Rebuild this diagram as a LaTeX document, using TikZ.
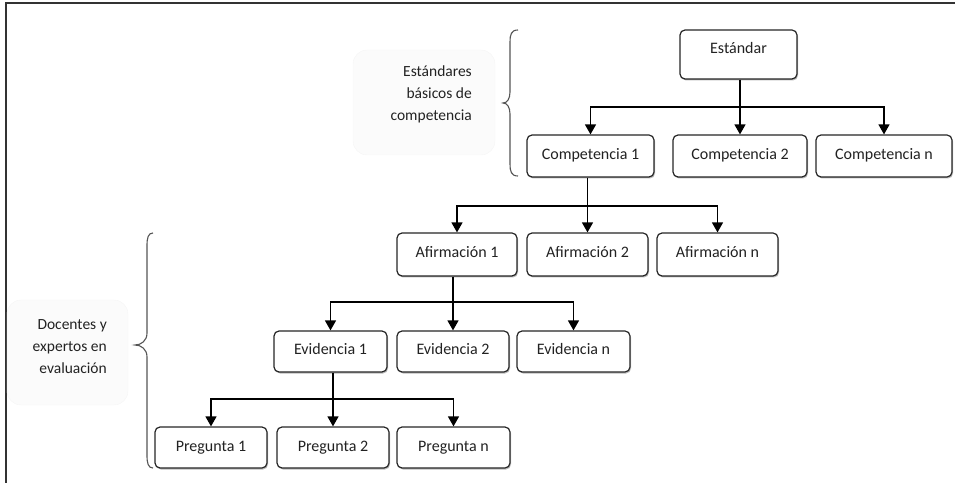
\documentclass[tikz,border=0pt]{standalone}
\usepackage{fontspec}
\setmainfont{Carlito}
\usetikzlibrary{arrows.meta,shadows}
\definecolor{txt}{HTML}{222222}
\definecolor{brc}{HTML}{555555}
\definecolor{faint}{HTML}{FBFBFB}
\tikzset{
  box/.style={draw=black!85, line width=1.2bp, rounded corners=5bp, fill=white,
    inner sep=0pt, text height=10bp, text depth=3bp, text=txt,
    font=\fontsize{16bp}{22bp}\selectfont,
    drop shadow={shadow xshift=1bp, shadow yshift=-1.5bp, opacity=0.45, fill=black!60}},
  arr/.style={line width=1.3bp, black, -{Triangle[length=10bp,width=11bp]}},
  brace/.style={draw=brc, line width=1.1bp},
  lbl/.style={align=right, text=txt, inner sep=0pt, font=\fontsize{15.5bp}{22bp}\selectfont},
  faintbox/.style={fill=faint, draw=black!4, rounded corners=14bp}
}
\begin{document}
\begin{tikzpicture}[x=1bp,y=-1bp]
\useasboundingbox (0,0) rectangle (955,483);
% frame
\draw[line width=2bp, black!80] (6,483) -- (6,3) -- (955,3);
% faint backgrounds
\path[faintbox] (353,50) rectangle (495,155);
\path[faintbox] (7,300) rectangle (128,405);
% labels
\node[lbl, anchor=east] (lab1) at (472,94) {Estándares\\básicos de\\competencia};
\node[lbl, anchor=east] (lab2) at (107,347) {Docentes y\\expertos en\\evaluación};
% braces
\draw[brace] (518,30) .. controls (511,30) and (510,35) .. (510,42) -- (510,92)
  .. controls (510,99) and (507,103) .. (503,103)
  .. controls (507,103) and (510,107) .. (510,114) -- (510,164)
  .. controls (510,171) and (511,176) .. (518,176);
\draw[brace] (153,233) .. controls (148,233) and (147,238) .. (147,246) -- (147,333)
  .. controls (147,341) and (141,345) .. (135,345)
  .. controls (141,345) and (147,349) .. (147,357) -- (147,455)
  .. controls (147,463) and (148,468) .. (153,468);
% nodes
\node[box, minimum width=117bp, minimum height=49bp, text depth=12bp] (est) at (738.5,54.5) {Estándar};
\node[box, minimum width=127bp, minimum height=42bp] (c1) at (590.5,156) {Competencia 1};
\node[box, minimum width=134bp, minimum height=42bp] (c2) at (740,156) {Competencia 2};
\node[box, minimum width=136bp, minimum height=42bp] (cn) at (884,156) {Competencia n};
\node[box, minimum width=120bp, minimum height=43bp] (a1) at (457,254.5) {Afirmación 1};
\node[box, minimum width=121bp, minimum height=43bp] (a2) at (587.5,254.5) {Afirmación 2};
\node[box, minimum width=121bp, minimum height=43bp] (an) at (717.5,254.5) {Afirmación n};
\node[box, minimum width=113bp, minimum height=41bp] (e1) at (330.5,351.5) {Evidencia 1};
\node[box, minimum width=112bp, minimum height=41bp] (e2) at (453,351.5) {Evidencia 2};
\node[box, minimum width=113bp, minimum height=41bp] (en) at (573.5,351.5) {Evidencia n};
\node[box, minimum width=112bp, minimum height=41bp] (p1) at (211,447.5) {Pregunta 1};
\node[box, minimum width=112bp, minimum height=41bp] (p2) at (333,447.5) {Pregunta 2};
\node[box, minimum width=113bp, minimum height=41bp] (pn) at (453.5,447.5) {Pregunta n};
% bar coordinates
\coordinate (b1) at (0,107);
\coordinate (b2) at (0,206);
\coordinate (b3) at (0,302);
\coordinate (b4) at (0,399);
% connectors level 1
\draw[arr] (est.south -| c2.north) -- (c2.north);
\draw[arr] (b1 -| c2.north) -| (c1.north);
\draw[arr] (b1 -| c2.north) -| (cn.north);
% level 2
\draw[arr] (c1.south -| a2.north) -- (a2.north);
\draw[arr] (b2 -| a2.north) -| (a1.north);
\draw[arr] (b2 -| a2.north) -| (an.north);
% level 3
\draw[arr] (a1.south -| e2.north) -- (e2.north);
\draw[arr] (b3 -| e2.north) -| (e1.north);
\draw[arr] (b3 -| e2.north) -| (en.north);
% level 4
\draw[arr] (e1.south -| p2.north) -- (p2.north);
\draw[arr] (b4 -| p2.north) -| (p1.north);
\draw[arr] (b4 -| p2.north) -| (pn.north);
\end{tikzpicture}
\end{document}
